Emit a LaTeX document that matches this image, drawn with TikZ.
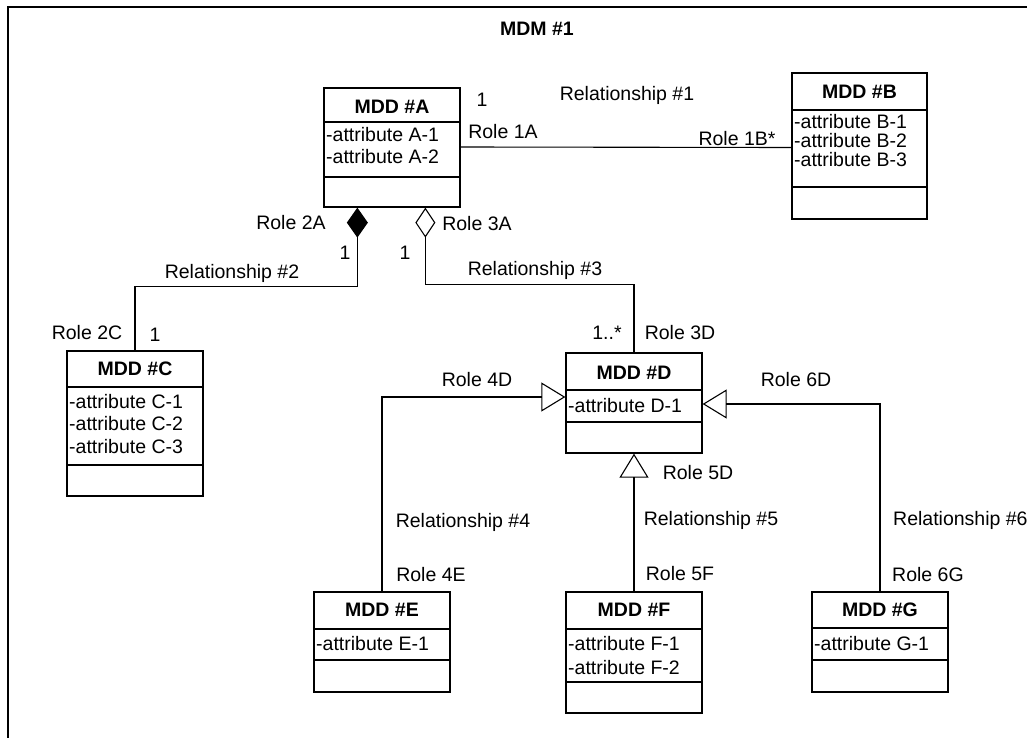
\documentclass[tikz,border=0pt]{standalone}
\usepackage{fontspec}
\setmainfont{Liberation Sans}
\usetikzlibrary{arrows.meta}
\tikzset{
  classbox/.style={draw, line width=1.3pt, inner sep=0pt, fill=white},
  sepline/.style={line width=1.3pt},
  lbl/.style={inner sep=0pt, font=\fontsize{19.5pt}{22pt}\selectfont},
  ttl/.style={inner sep=0pt, font=\fontsize{19.5pt}{22pt}\selectfont\bfseries},
  attr/.style={lbl, anchor=west},
  link/.style={line width=1.1pt},
  comp/.style={link, {Diamond[length=30pt,width=21pt]}-},
  aggr/.style={link, {Diamond[open,length=30pt,width=20pt]}-},
  gen/.style={link, -{Triangle[open,length=24pt,width=29pt]}},
}
% class box: name, x1, y1, x2, y2, header bottom, attribute bottom
\newcommand\umlclass[7]{%
  \node[classbox, minimum width={(#4-#2)*1pt}, minimum height={(#5-#3)*1pt}]
    (#1) at ({(#2+#4)/2},{(#3+#5)/2}) {};
  \draw[sepline] (#2,#6) -- (#4,#6);
  \draw[sepline] (#2,#7) -- (#4,#7);
}
\begin{document}
\begin{tikzpicture}[x=1pt,y=-1pt]
\useasboundingbox (0,0) rectangle (1027,738);
\clip (0,0) rectangle (1027,738);
\fill[white] (0,0) rectangle (1027,738);

% package frame
\draw[line width=1.5pt] (8,790) -- (8,7) -- (1080,7);
\node[ttl] (title) at (537,29) {MDM \#1};

% classes
\umlclass{A}{324}{88}{460}{207}{122}{177}
\node[ttl] (At) at (392,107) {MDD \#A};
\node[attr] (A1) at (326,135) {-attribute A-1};
\node[attr] (A2) at (326,157) {-attribute A-2};

\umlclass{B}{792}{73}{927}{219}{110}{187}
\node[ttl] (Bt) at (859.5,92) {MDD \#B};
\node[attr] (B1) at (794,122) {-attribute B-1};
\node[attr] (B2) at (794,141) {-attribute B-2};
\node[attr] (B3) at (794,160) {-attribute B-3};

\umlclass{C}{67}{351}{203}{496}{387}{465}
\node[ttl] (Ct) at (135,369) {MDD \#C};
\node[attr] (C1) at (69,402) {-attribute C-1};
\node[attr] (C2) at (69,424) {-attribute C-2};
\node[attr] (C3) at (69,447) {-attribute C-3};

\umlclass{D}{566}{353}{702}{453}{390}{422}
\node[ttl] (Dt) at (634,373) {MDD \#D};
\node[attr] (D1) at (568,406) {-attribute D-1};

\umlclass{E}{314}{592}{450}{692}{629}{660}
\node[ttl] (Et) at (382,610) {MDD \#E};
\node[attr] (E1) at (316,644) {-attribute E-1};

\umlclass{F}{566}{592}{702}{713}{629}{682}
\node[ttl] (Ft) at (634,610) {MDD \#F};
\node[attr] (F1) at (568,644) {-attribute F-1};
\node[attr] (F2) at (568,668) {-attribute F-2};

\umlclass{G}{812}{592}{948}{692}{628}{660}
\node[ttl] (Gt) at (880,610) {MDD \#G};
\node[attr] (G1) at (814,644) {-attribute G-1};

% relationships
\draw[link] ([yshift=0.5pt]A.east) -- (B.west |- A.east);
\draw[comp] ([xshift=34pt]A.south west) -- ++(0,79) -| (C.north);
\draw[aggr] ([xshift=102pt]A.south west) -- ++(0,77) -| (D.north);
\draw[gen] (E.north) |- ([yshift=6pt]D.west);
\draw[gen] (F.north) -- (D.south);
\draw[gen] (G.north) |- ([yshift=-1pt]D.east);

% role names, multiplicities and relationship names
\node[lbl] (m1A) at (482,100) {1};
\node[lbl] (r1) at (627,95) {Relationship \#1};
\node[lbl] (ro1A) at (503,132) {Role 1A};
\node[lbl] (ro1B) at (737,139) {Role 1B*};

\node[lbl] (ro2A) at (291,223) {Role 2A};
\node[lbl] (m2A) at (345,253) {1};
\node[lbl] (r2) at (232,273) {Relationship \#2};
\node[lbl] (ro2C) at (87,333) {Role 2C};
\node[lbl] (m2C) at (155,335) {1};

\node[lbl] (ro3A) at (477,224) {Role 3A};
\node[lbl] (m3A) at (405,253) {1};
\node[lbl] (r3) at (535,270) {Relationship \#3};
\node[lbl] (m3D) at (607,333) {1..*};
\node[lbl] (ro3D) at (680,333) {Role 3D};

\node[lbl] (ro4D) at (477,380) {Role 4D};
\node[lbl] (r4) at (463,522) {Relationship \#4};
\node[lbl] (ro4E) at (431,575) {Role 4E};

\node[lbl] (ro5D) at (698,473) {Role 5D};
\node[lbl] (r5) at (711,520) {Relationship \#5};
\node[lbl] (ro5F) at (680,574) {Role 5F};

\node[lbl] (ro6D) at (796,380) {Role 6D};
\node[lbl, anchor=west] (r6) at (893,520) {Relationship \#6};
\node[lbl] (ro6G) at (928,575) {Role 6G};
\end{tikzpicture}
\end{document}
